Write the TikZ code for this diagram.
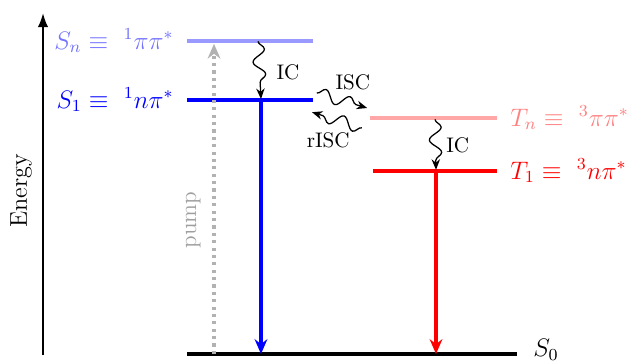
\documentclass[tikz,border=0pt]{standalone}
\usepackage{amsmath}
\usepackage{amssymb}
\usetikzlibrary{positioning, arrows.meta, calc, decorations.pathmorphing}

\tikzset{
  level/.style={line width=1.6pt},
  decay/.style={line width=1.5pt, -{Stealth[length=7pt, width=6pt]}},
  wavy/.style={semithick, -{Stealth[length=5pt, width=4pt]}, decorate,
    decoration={snake, amplitude=1mm, segment length=4.2mm, post length=1mm}},
}

\begin{document}
\begin{tikzpicture}
\useasboundingbox (0,0) rectangle (10.467,6.05);

% energy axis
\coordinate (ax0) at (0.717,0.13);
\coordinate (ax1) at (0.717,5.83);
\draw[thick, -{Latex}] (ax0) -- (ax1);
\node[rotate=90, font=\fontsize{11.5}{13}\selectfont] (energy) at (0.35,2.87) {Energy};

% levels
\coordinate (S0a) at (3.117,0.15);
\coordinate (S0b) at (8.617,0.15);
\coordinate (Sna) at (3.117,5.367);
\coordinate (Snb) at (5.217,5.367);
\coordinate (S1a) at (3.117,4.383);
\coordinate (S1b) at (5.217,4.383);
\coordinate (Tna) at (6.167,4.083);
\coordinate (Tnb) at (8.283,4.083);
\coordinate (T1a) at (6.217,3.2);
\coordinate (T1b) at (8.283,3.2);

\draw[level] (S0a) -- (S0b);
\draw[level, blue!40] (Sna) -- (Snb);
\draw[level, blue] (S1a) -- (S1b);
\draw[level, red!35] (Tna) -- (Tnb);
\draw[level, red] (T1a) -- (T1b);

\node[right=1.5mm of S0b, yshift=2pt] (S0lbl) {\large $S_0$};
\node[left=1mm of Sna, text=blue!55] (Snlbl) {\large $S_n \equiv\ {}^1\pi\pi^*$};
\node[left=1mm of S1a, text=blue] (S1lbl) {\large $S_1 \equiv\ {}^1n\pi^*$};
\node[right=1mm of Tnb, text=red!50] (Tnlbl) {\large $T_n \equiv\ {}^3\pi\pi^*$};
\node[right=1mm of T1b, text=red] (T1lbl) {\large $T_1 \equiv\ {}^3n\pi^*$};

% pump
\coordinate (pump0) at (3.567,0.15);
\coordinate (pump1) at (3.567,5.32);
\draw[gray!60, dotted, line width=1.5pt, -{Stealth[length=7pt, width=6pt]}] (pump0) -- (pump1);
\node[rotate=90, text=gray!75, font=\fontsize{11}{13}\selectfont] (pumplbl) at (3.22,2.38) {pump};

% radiative decay
\coordinate (S1d) at (4.35,4.383);
\coordinate (T1d) at (7.267,3.2);
\draw[decay, blue] (S1d) -- (S1d |- S0a);
\draw[decay, red] (T1d) -- (T1d |- S0a);

% internal conversion
\coordinate (icS0) at (4.3,5.36);
\coordinate (icS1) at (4.35,4.40);
\draw[wavy] (icS0) -- (icS1);
\node (icSlbl) at (4.8,4.85) {IC};
\coordinate (icT0) at (7.25,4.06);
\coordinate (icT1) at (7.267,3.22);
\draw[wavy] (icT0) -- (icT1);
\node (icTlbl) at (7.63,3.63) {IC};

% intersystem crossing
\coordinate (isc0) at (5.28,4.5);
\coordinate (isc1) at (6.12,4.25);
\coordinate (risc0) at (6.03,3.92);
\coordinate (risc1) at (5.2,4.18);
\draw[wavy] (isc0) -- (isc1);
\draw[wavy] (risc0) -- (risc1);
\node (isclbl) at (5.88,4.68) {ISC};
\node (risclbl) at (5.47,3.72) {rISC};
\end{tikzpicture}
\end{document}
